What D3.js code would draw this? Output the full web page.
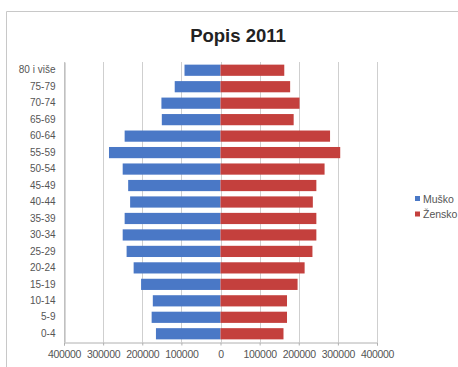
<!DOCTYPE html>
<html><head><meta charset="utf-8">
<script src="https://cdn.jsdelivr.net/npm/d3@7"></script>
<style>body{margin:0;background:#fff}svg{display:block}</style>
</head><body>
<svg id="c" width="458" height="367"></svg>
<script>
const categories = ["80 i više","75-79","70-74","65-69","60-64","55-59","50-54","45-49","40-44","35-39","30-34","25-29","20-24","15-19","10-14","5-9","0-4"];
const male   = [92000,117000,151000,150000,245000,285000,250000,236000,231000,245000,250000,240000,222000,203000,173000,176000,165000];
const female = [163000,178000,202000,187000,280000,306000,266000,245000,236000,245000,245000,235000,215000,197000,170000,170000,161000];
const tickValues = [-400000,-300000,-200000,-100000,0,100000,200000,300000,400000];
const seriesNames = ["Muško","Žensko"];
const colors = ["#4a78c6","#c4403d"];

const svg = d3.select("#c");
const font = "Liberation Sans, Arial, sans-serif";

// chart border
svg.append("path").attr("d","M6.5,367 V11.5 H458").attr("fill","none").attr("stroke","#c8c8c8");

const x = d3.scaleLinear().domain([-400000,400000]).range([64,377]);
const y = d3.scaleBand().domain(categories).range([62,342]).paddingInner(0.32).paddingOuter(0.16);

// gridlines
svg.append("g").selectAll("line").data(tickValues).join("line")
  .attr("x1",d=>Math.round(x(d))+0.5).attr("x2",d=>Math.round(x(d))+0.5)
  .attr("y1",62).attr("y2",342).attr("stroke","#cfcfcf");

// bars
svg.append("g").selectAll("rect").data(categories).join("rect")
  .attr("x",(d,i)=>x(-male[i])).attr("width",(d,i)=>x(0)-x(-male[i]))
  .attr("y",d=>y(d)).attr("height",y.bandwidth()).attr("fill",colors[0]);
svg.append("g").selectAll("rect").data(categories).join("rect")
  .attr("x",x(0)).attr("width",(d,i)=>x(female[i])-x(0))
  .attr("y",d=>y(d)).attr("height",y.bandwidth()).attr("fill",colors[1]);

// y axis
const ya = svg.append("g").attr("transform","translate(64.5,0)")
  .call(d3.axisLeft(y).tickSize(0).tickPadding(9));
ya.select(".domain").attr("stroke","#b0b0b0");
ya.selectAll("text").attr("font-family",font).attr("font-size",10).attr("fill","#555");

// x axis
const xa = svg.append("g").attr("transform","translate(0,342.5)")
  .call(d3.axisBottom(x).tickValues(tickValues).tickSize(3).tickPadding(5).tickFormat(d=>String(Math.abs(d))));
xa.select(".domain").attr("stroke","#b0b0b0");
xa.selectAll("line").attr("stroke","#b0b0b0");
xa.selectAll("text").attr("font-family",font).attr("font-size",10.5).attr("letter-spacing",-0.3).attr("fill","#555");

// title
svg.append("text").attr("x",238).attr("y",42).attr("text-anchor","middle")
  .attr("font-family",font).attr("font-weight","bold").attr("font-size",18.5).attr("fill","#222").text("Popis 2011");

// legend
const lg = svg.append("g");
seriesNames.forEach((n,i)=>{
  lg.append("rect").attr("x",415).attr("y",196+i*15.5).attr("width",5).attr("height",5).attr("fill",colors[i]);
  lg.append("text").attr("x",423).attr("y",202.5+i*15.5).attr("font-family",font).attr("font-size",10.5).attr("fill","#555").text(n);
});
</script>
</body></html>
